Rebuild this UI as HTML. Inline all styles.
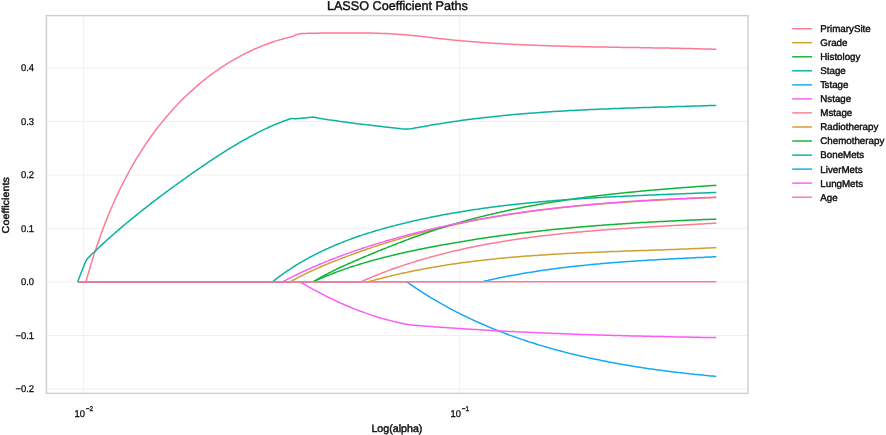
<!DOCTYPE html>
<html lang="en"><head><meta charset="utf-8"><title>LASSO Coefficient Paths</title>
<style>
html,body{margin:0;padding:0;background:#fff;}
body{width:886px;height:435px;overflow:hidden;font-family:"Liberation Sans",Arial,sans-serif;}
svg text{white-space:pre;}
</style></head><body>
<svg width="886" height="435" viewBox="0 0 886 435" style="display:block">
<rect width="886" height="435" fill="#fff"/>
<path d="M46.4,68.0 H748.0 M46.4,121.5 H748.0 M46.4,175.0 H748.0 M46.4,228.5 H748.0 M46.4,282.0 H748.0 M46.4,335.5 H748.0 M46.4,389.0 H748.0 M83.7,15.6 V393.4 M459.7,15.6 V393.4" stroke="#f0f0f0" stroke-width="1" fill="none"/>
<g fill="none" stroke-width="1.5" stroke-linejoin="round" stroke-linecap="butt">
<path d="M86.0,281.7 L86.4,280.3 L86.8,278.8 L87.2,277.4 L87.6,275.9 L88.0,274.5 L88.4,273.0 L88.9,271.6 L89.3,270.1 L89.7,268.7 L90.1,267.2 L90.6,265.8 L91.0,264.4 L91.4,262.9 L91.9,261.5 L92.3,260.0 L92.8,258.6 L93.2,257.2 L93.7,255.7 L94.1,254.3 L94.6,252.8 L95.1,251.4 L95.6,250.0 L96.0,248.5 L96.5,247.1 L97.0,245.7 L97.5,244.2 L98.0,242.8 L98.5,241.4 L99.0,239.9 L99.5,238.5 L100.0,237.1 L100.5,235.6 L101.0,234.2 L101.5,232.8 L102.1,231.4 L102.6,230.0 L103.1,228.5 L103.6,227.1 L104.2,225.7 L104.7,224.3 L105.3,222.9 L105.8,221.5 L106.4,220.1 L107.0,218.6 L107.5,217.2 L108.1,215.8 L108.7,214.4 L109.2,213.0 L109.8,211.6 L110.4,210.2 L111.0,208.8 L111.6,207.4 L112.2,206.0 L112.8,204.7 L113.4,203.3 L114.0,201.9 L114.7,200.5 L115.3,199.1 L115.9,197.7 L116.6,196.4 L117.2,195.0 L117.8,193.6 L118.5,192.3 L119.1,190.9 L119.8,189.5 L120.5,188.2 L121.1,186.8 L121.8,185.5 L122.5,184.1 L123.2,182.7 L123.8,181.4 L124.5,180.1 L125.2,178.7 L125.9,177.4 L126.6,176.0 L127.4,174.7 L128.1,173.4 L128.8,172.0 L129.5,170.7 L130.3,169.4 L131.0,168.1 L131.7,166.8 L132.5,165.5 L133.2,164.1 L134.0,162.8 L134.8,161.5 L135.5,160.2 L136.3,158.9 L137.1,157.7 L137.9,156.4 L138.7,155.1 L139.5,153.8 L140.3,152.5 L141.1,151.3 L141.9,150.0 L142.7,148.7 L143.5,147.5 L144.4,146.2 L145.2,144.9 L146.0,143.7 L146.9,142.4 L147.7,141.2 L148.6,140.0 L149.5,138.7 L150.3,137.5 L151.2,136.3 L152.1,135.0 L153.0,133.8 L153.9,132.6 L154.8,131.4 L155.7,130.2 L156.6,129.0 L157.5,127.8 L158.4,126.6 L159.3,125.4 L160.3,124.2 L161.2,123.1 L162.2,121.9 L163.1,120.7 L164.1,119.6 L165.0,118.4 L166.0,117.2 L167.0,116.1 L168.0,115.0 L169.0,113.8 L170.0,112.7 L171.0,111.5 L172.0,110.4 L173.0,109.3 L174.0,108.2 L175.0,107.1 L176.1,106.0 L177.1,104.9 L178.1,103.8 L179.2,102.7 L180.3,101.6 L181.3,100.5 L182.4,99.5 L183.5,98.4 L184.5,97.3 L185.6,96.3 L186.7,95.2 L187.8,94.2 L188.9,93.2 L190.0,92.1 L191.2,91.1 L192.3,90.1 L193.4,89.1 L194.5,88.1 L195.7,87.1 L196.8,86.1 L198.0,85.1 L199.1,84.1 L200.3,83.1 L201.5,82.2 L202.6,81.2 L203.8,80.3 L205.0,79.3 L206.2,78.4 L207.4,77.5 L208.6,76.5 L209.8,75.6 L211.0,74.7 L212.2,73.8 L213.5,72.9 L214.7,72.0 L215.9,71.2 L217.2,70.3 L218.4,69.4 L219.6,68.6 L220.9,67.7 L222.2,66.9 L223.4,66.1 L224.7,65.3 L226.0,64.4 L227.2,63.6 L228.5,62.9 L229.8,62.1 L231.1,61.3 L232.4,60.5 L233.7,59.8 L235.0,59.0 L236.3,58.3 L237.6,57.5 L239.0,56.8 L240.3,56.1 L241.6,55.4 L243.0,54.7 L244.3,54.0 L245.6,53.3 L247.0,52.6 L248.4,52.0 L249.7,51.3 L251.1,50.7 L252.4,50.1 L253.8,49.4 L255.2,48.8 L256.6,48.2 L258.0,47.6 L259.3,47.0 L260.7,46.5 L262.1,45.9 L263.5,45.4 L264.9,44.8 L266.4,44.3 L267.8,43.8 L269.2,43.3 L270.6,42.8 L272.0,42.3 L273.5,41.8 L274.9,41.3 L276.3,40.9 L277.8,40.4 L279.2,40.0 L280.7,39.6 L282.1,39.2 L283.6,38.8 L285.0,38.4 L286.5,38.0 L288.0,37.6 L289.4,37.3 L290.9,36.9 L292.4,36.6 L292.4,36.6 L293.9,35.8 L295.4,35.0 L296.9,34.5 L298.4,34.1 L299.9,33.8 L301.4,33.5 L302.9,33.4 L303.0,33.4 L303.0,33.4 L304.5,33.4 L306.0,33.4 L307.5,33.3 L309.0,33.3 L310.5,33.3 L312.1,33.3 L313.6,33.2 L315.1,33.2 L316.6,33.2 L318.1,33.2 L319.6,33.1 L321.1,33.1 L322.6,33.1 L324.1,33.1 L325.6,33.0 L327.2,33.0 L328.7,33.0 L330.2,33.0 L331.7,33.0 L333.2,33.0 L334.7,32.9 L336.2,32.9 L337.7,32.9 L339.2,32.9 L340.8,32.9 L342.3,32.9 L343.8,32.9 L345.3,32.9 L346.8,32.9 L348.3,32.9 L349.8,32.9 L351.3,32.9 L352.8,32.9 L354.4,32.9 L355.9,32.9 L357.4,32.9 L358.9,32.9 L360.4,32.9 L361.9,32.9 L363.4,32.9 L364.9,33.0 L366.4,33.0 L368.0,33.0 L369.5,33.0 L371.0,33.1 L372.5,33.1 L374.0,33.2 L375.5,33.2 L377.0,33.2 L378.5,33.3 L380.0,33.3 L381.5,33.4 L383.1,33.5 L384.6,33.5 L386.1,33.6 L387.6,33.6 L389.1,33.7 L390.6,33.8 L392.1,33.9 L393.6,34.0 L395.1,34.1 L396.6,34.2 L398.1,34.3 L399.6,34.4 L401.1,34.5 L402.6,34.6 L404.2,34.7 L405.7,34.8 L407.2,35.0 L408.7,35.1 L410.2,35.2 L411.7,35.4 L413.2,35.5 L414.7,35.7 L416.2,35.8 L417.7,36.0 L419.2,36.2 L420.7,36.3 L422.2,36.5 L423.7,36.7 L425.2,36.9 L426.7,37.1 L428.2,37.2 L429.7,37.4 L431.2,37.6 L432.7,37.8 L434.2,38.0 L435.7,38.1 L437.2,38.3 L438.7,38.5 L440.2,38.7 L441.7,38.8 L443.2,39.0 L444.7,39.1 L446.2,39.3 L447.7,39.5 L449.2,39.6 L450.7,39.8 L452.2,39.9 L453.7,40.1 L455.2,40.2 L456.7,40.4 L458.2,40.5 L459.7,40.6 L461.2,40.8 L462.7,40.9 L464.2,41.0 L465.7,41.2 L467.2,41.3 L468.7,41.4 L470.2,41.5 L471.8,41.7 L473.3,41.8 L474.8,41.9 L476.3,42.0 L477.8,42.1 L479.3,42.2 L480.8,42.4 L482.3,42.5 L483.8,42.6 L485.3,42.7 L486.8,42.8 L488.3,42.9 L489.8,43.0 L491.3,43.1 L492.8,43.2 L494.4,43.3 L495.9,43.4 L497.4,43.4 L498.9,43.5 L500.4,43.6 L501.9,43.7 L503.4,43.8 L504.9,43.9 L506.4,44.0 L507.9,44.0 L509.4,44.1 L510.9,44.2 L512.4,44.3 L514.0,44.4 L515.5,44.4 L517.0,44.5 L518.5,44.6 L520.0,44.7 L521.5,44.7 L523.0,44.8 L524.5,44.9 L526.0,44.9 L527.5,45.0 L529.0,45.0 L530.5,45.1 L532.1,45.2 L533.6,45.2 L535.1,45.3 L536.6,45.3 L538.1,45.4 L539.6,45.5 L541.1,45.5 L542.6,45.6 L544.1,45.6 L545.6,45.7 L547.1,45.7 L548.7,45.8 L550.2,45.8 L551.7,45.9 L553.2,45.9 L554.7,46.0 L556.2,46.0 L557.7,46.1 L559.2,46.1 L560.7,46.1 L562.2,46.2 L563.8,46.2 L565.3,46.3 L566.8,46.3 L568.3,46.3 L569.8,46.4 L571.3,46.4 L572.8,46.5 L574.3,46.5 L575.8,46.5 L577.4,46.6 L578.9,46.6 L580.4,46.6 L581.9,46.7 L583.4,46.7 L584.9,46.7 L586.4,46.8 L587.9,46.8 L589.4,46.8 L590.9,46.8 L592.5,46.9 L594.0,46.9 L595.5,46.9 L597.0,47.0 L598.5,47.0 L600.0,47.0 L601.5,47.0 L603.0,47.1 L604.5,47.1 L606.1,47.1 L607.6,47.1 L609.1,47.2 L610.6,47.2 L612.1,47.2 L613.6,47.2 L615.1,47.3 L616.6,47.3 L618.1,47.3 L619.7,47.3 L621.2,47.4 L622.7,47.4 L624.2,47.4 L625.7,47.4 L627.2,47.5 L628.7,47.5 L630.2,47.5 L631.7,47.5 L633.3,47.5 L634.8,47.6 L636.3,47.6 L637.8,47.6 L639.3,47.6 L640.8,47.7 L642.3,47.7 L643.8,47.7 L645.3,47.7 L646.8,47.8 L648.4,47.8 L649.9,47.8 L651.4,47.8 L652.9,47.9 L654.4,47.9 L655.9,47.9 L657.4,47.9 L658.9,48.0 L660.4,48.0 L662.0,48.0 L663.5,48.0 L665.0,48.1 L666.5,48.1 L668.0,48.1 L669.5,48.1 L671.0,48.2 L672.5,48.2 L674.0,48.2 L675.5,48.3 L677.1,48.3 L678.6,48.3 L680.1,48.3 L681.6,48.4 L683.1,48.4 L684.6,48.4 L686.1,48.5 L687.6,48.5 L689.1,48.5 L690.6,48.6 L692.2,48.6 L693.7,48.7 L695.2,48.7 L696.7,48.7 L698.2,48.8 L699.7,48.8 L701.2,48.9 L702.7,48.9 L704.2,48.9 L705.7,49.0 L707.2,49.0 L708.8,49.1 L710.3,49.1 L711.8,49.2 L713.3,49.2 L714.8,49.3 L716.3,49.3" stroke="#fd7a97"/>
<path d="M290.5,281.7 L291.8,281.0 L293.1,280.2 L294.5,279.5 L295.8,278.8 L297.1,278.1 L298.4,277.4 L299.8,276.7 L301.1,276.0 L302.5,275.3 L303.8,274.6 L305.2,273.9 L306.5,273.3 L307.9,272.6 L309.2,272.0 L310.6,271.3 L312.0,270.7 L313.3,270.1 L314.7,269.5 L316.1,268.8 L317.5,268.2 L318.8,267.6 L320.2,267.0 L321.6,266.4 L323.0,265.8 L324.4,265.3 L325.8,264.7 L327.1,264.1 L328.5,263.5 L329.9,263.0 L331.3,262.4 L332.7,261.8 L334.1,261.3 L335.5,260.7 L336.9,260.2 L338.3,259.6 L339.7,259.1 L341.2,258.6 L342.6,258.0 L344.0,257.5 L345.4,257.0 L346.8,256.4 L348.2,255.9 L349.6,255.4 L351.1,254.9 L352.5,254.4 L353.9,253.8 L355.3,253.3 L356.7,252.8 L358.2,252.3 L359.6,251.8 L361.0,251.3 L362.4,250.8 L363.9,250.3 L365.3,249.8 L366.7,249.3 L368.1,248.8 L369.6,248.4 L371.0,247.9 L372.4,247.4 L373.9,246.9 L375.3,246.4 L376.7,246.0 L378.2,245.5 L379.6,245.0 L381.1,244.5 L382.5,244.1 L383.9,243.6 L385.4,243.2 L386.8,242.7 L388.3,242.3 L389.7,241.8 L391.1,241.4 L392.6,240.9 L394.0,240.5 L395.5,240.0 L396.9,239.6 L398.4,239.2 L399.8,238.7 L401.3,238.3 L402.7,237.9 L404.2,237.4 L405.6,237.0 L407.1,236.6 L408.5,236.2 L410.0,235.8 L411.4,235.4 L412.9,235.0 L414.4,234.6 L415.8,234.2 L417.3,233.8 L418.7,233.4 L420.2,233.0 L421.7,232.6 L423.1,232.2 L424.6,231.8 L426.0,231.4 L427.5,231.1 L429.0,230.7 L430.4,230.3 L431.9,229.9 L433.4,229.6 L434.8,229.2 L436.3,228.8 L437.8,228.5 L439.2,228.1 L440.7,227.8 L442.2,227.4 L443.6,227.1 L445.1,226.7 L446.6,226.4 L448.0,226.1 L449.5,225.7 L451.0,225.4 L452.5,225.1 L453.9,224.8 L455.4,224.4 L456.9,224.1 L458.3,223.8 L459.8,223.5 L461.3,223.2 L462.8,222.9 L464.2,222.5 L465.7,222.2 L467.2,221.9 L468.7,221.6 L470.2,221.3 L471.6,221.1 L473.1,220.8 L474.6,220.5 L476.1,220.2 L477.6,219.9 L479.0,219.6 L480.5,219.3 L482.0,219.1 L483.5,218.8 L485.0,218.5 L486.5,218.3 L487.9,218.0 L489.4,217.7 L490.9,217.5 L492.4,217.2 L493.9,217.0 L495.4,216.7 L496.9,216.4 L498.3,216.2 L499.8,215.9 L501.3,215.7 L502.8,215.5 L504.3,215.2 L505.8,215.0 L507.3,214.8 L508.8,214.5 L510.2,214.3 L511.7,214.1 L513.2,213.8 L514.7,213.6 L516.2,213.4 L517.7,213.2 L519.2,212.9 L520.7,212.7 L522.2,212.5 L523.7,212.3 L525.2,212.1 L526.7,211.9 L528.2,211.7 L529.7,211.5 L531.1,211.3 L532.6,211.1 L534.1,210.9 L535.6,210.7 L537.1,210.5 L538.6,210.3 L540.1,210.1 L541.6,209.9 L543.1,209.7 L544.6,209.6 L546.1,209.4 L547.6,209.2 L549.1,209.0 L550.6,208.8 L552.1,208.7 L553.6,208.5 L555.1,208.3 L556.6,208.2 L558.1,208.0 L559.6,207.8 L561.1,207.7 L562.6,207.5 L564.1,207.3 L565.6,207.2 L567.1,207.0 L568.6,206.9 L570.1,206.7 L571.6,206.6 L573.1,206.4 L574.6,206.3 L576.1,206.1 L577.6,206.0 L579.1,205.8 L580.6,205.7 L582.1,205.6 L583.6,205.4 L585.2,205.3 L586.7,205.1 L588.2,205.0 L589.7,204.9 L591.2,204.7 L592.7,204.6 L594.2,204.5 L595.7,204.4 L597.2,204.2 L598.7,204.1 L600.2,204.0 L601.7,203.9 L603.2,203.7 L604.7,203.6 L606.2,203.5 L607.7,203.4 L609.2,203.3 L610.8,203.2 L612.3,203.0 L613.8,202.9 L615.3,202.8 L616.8,202.7 L618.3,202.6 L619.8,202.5 L621.3,202.4 L622.8,202.3 L624.3,202.2 L625.8,202.1 L627.3,202.0 L628.8,201.9 L630.3,201.8 L631.9,201.7 L633.4,201.6 L634.9,201.5 L636.4,201.4 L637.9,201.3 L639.4,201.2 L640.9,201.1 L642.4,201.0 L643.9,200.9 L645.4,200.8 L646.9,200.7 L648.5,200.7 L650.0,200.6 L651.5,200.5 L653.0,200.4 L654.5,200.3 L656.0,200.2 L657.5,200.2 L659.0,200.1 L660.5,200.0 L662.0,199.9 L663.5,199.8 L665.0,199.8 L666.6,199.7 L668.1,199.6 L669.6,199.5 L671.1,199.4 L672.6,199.4 L674.1,199.3 L675.6,199.2 L677.1,199.1 L678.6,199.1 L680.1,199.0 L681.6,198.9 L683.1,198.9 L684.7,198.8 L686.2,198.7 L687.7,198.6 L689.2,198.6 L690.7,198.5 L692.2,198.4 L693.7,198.4 L695.2,198.3 L696.7,198.2 L698.2,198.2 L699.7,198.1 L701.2,198.0 L702.7,198.0 L704.3,197.9 L705.8,197.8 L707.3,197.8 L708.8,197.7 L710.3,197.7 L711.8,197.6 L713.3,197.5 L714.8,197.5 L716.3,197.4" stroke="#cf9f2f"/>
<path d="M313.3,281.7 L314.6,280.9 L315.9,280.2 L317.2,279.4 L318.5,278.7 L319.8,277.9 L321.1,277.2 L322.4,276.5 L323.8,275.7 L325.1,275.0 L326.4,274.3 L327.7,273.6 L329.1,272.9 L330.4,272.3 L331.8,271.6 L333.1,270.9 L334.5,270.3 L335.8,269.6 L337.2,268.9 L338.5,268.3 L339.9,267.7 L341.3,267.0 L342.6,266.4 L344.0,265.8 L345.4,265.1 L346.7,264.5 L348.1,263.9 L349.5,263.3 L350.9,262.7 L352.2,262.1 L353.6,261.5 L355.0,260.9 L356.4,260.3 L357.8,259.7 L359.2,259.1 L360.6,258.5 L361.9,257.9 L363.3,257.3 L364.7,256.7 L366.1,256.1 L367.5,255.6 L368.9,255.0 L370.3,254.4 L371.7,253.8 L373.1,253.2 L374.5,252.7 L375.9,252.1 L377.3,251.5 L378.7,250.9 L380.1,250.4 L381.5,249.8 L382.9,249.2 L384.3,248.7 L385.7,248.1 L387.1,247.6 L388.5,247.0 L389.9,246.4 L391.3,245.9 L392.7,245.3 L394.1,244.8 L395.6,244.2 L397.0,243.7 L398.4,243.1 L399.8,242.6 L401.2,242.0 L402.6,241.5 L404.0,241.0 L405.4,240.4 L406.9,239.9 L408.3,239.4 L409.7,238.8 L411.1,238.3 L412.5,237.8 L413.9,237.3 L415.4,236.8 L416.8,236.3 L418.2,235.7 L419.6,235.2 L421.1,234.7 L422.5,234.2 L423.9,233.7 L425.3,233.2 L426.8,232.7 L428.2,232.3 L429.6,231.8 L431.1,231.3 L432.5,230.8 L433.9,230.3 L435.4,229.9 L436.8,229.4 L438.2,228.9 L439.7,228.5 L441.1,228.0 L442.5,227.6 L444.0,227.1 L445.4,226.7 L446.9,226.2 L448.3,225.8 L449.7,225.3 L451.2,224.9 L452.6,224.5 L454.1,224.0 L455.5,223.6 L457.0,223.2 L458.4,222.8 L459.9,222.4 L461.3,222.0 L462.8,221.5 L464.2,221.1 L465.7,220.7 L467.1,220.3 L468.6,219.9 L470.0,219.6 L471.5,219.2 L472.9,218.8 L474.4,218.4 L475.9,218.0 L477.3,217.6 L478.8,217.3 L480.2,216.9 L481.7,216.5 L483.2,216.2 L484.6,215.8 L486.1,215.4 L487.6,215.1 L489.0,214.7 L490.5,214.4 L492.0,214.0 L493.4,213.7 L494.9,213.4 L496.4,213.0 L497.8,212.7 L499.3,212.4 L500.8,212.0 L502.2,211.7 L503.7,211.4 L505.2,211.1 L506.7,210.7 L508.1,210.4 L509.6,210.1 L511.1,209.8 L512.6,209.5 L514.0,209.2 L515.5,208.9 L517.0,208.6 L518.5,208.3 L519.9,208.0 L521.4,207.7 L522.9,207.4 L524.4,207.1 L525.9,206.8 L527.3,206.5 L528.8,206.3 L530.3,206.0 L531.8,205.7 L533.3,205.4 L534.8,205.2 L536.2,204.9 L537.7,204.6 L539.2,204.4 L540.7,204.1 L542.2,203.9 L543.7,203.6 L545.2,203.3 L546.7,203.1 L548.1,202.8 L549.6,202.6 L551.1,202.4 L552.6,202.1 L554.1,201.9 L555.6,201.6 L557.1,201.4 L558.6,201.2 L560.1,200.9 L561.6,200.7 L563.1,200.5 L564.5,200.3 L566.0,200.0 L567.5,199.8 L569.0,199.6 L570.5,199.4 L572.0,199.2 L573.5,198.9 L575.0,198.7 L576.5,198.5 L578.0,198.3 L579.5,198.1 L581.0,197.9 L582.5,197.7 L584.0,197.5 L585.5,197.3 L587.0,197.1 L588.5,196.9 L590.0,196.7 L591.5,196.5 L593.0,196.3 L594.5,196.2 L596.0,196.0 L597.5,195.8 L599.0,195.6 L600.5,195.4 L602.0,195.2 L603.5,195.1 L605.0,194.9 L606.5,194.7 L608.0,194.6 L609.5,194.4 L611.0,194.2 L612.5,194.0 L614.0,193.9 L615.5,193.7 L617.0,193.6 L618.5,193.4 L620.0,193.2 L621.5,193.1 L623.0,192.9 L624.5,192.8 L626.0,192.6 L627.6,192.5 L629.1,192.3 L630.6,192.2 L632.1,192.0 L633.6,191.9 L635.1,191.7 L636.6,191.6 L638.1,191.4 L639.6,191.3 L641.1,191.1 L642.6,191.0 L644.1,190.9 L645.6,190.7 L647.1,190.6 L648.6,190.5 L650.1,190.3 L651.6,190.2 L653.1,190.1 L654.6,189.9 L656.2,189.8 L657.7,189.7 L659.2,189.5 L660.7,189.4 L662.2,189.3 L663.7,189.2 L665.2,189.0 L666.7,188.9 L668.2,188.8 L669.7,188.7 L671.2,188.6 L672.7,188.4 L674.2,188.3 L675.7,188.2 L677.2,188.1 L678.7,188.0 L680.2,187.9 L681.7,187.7 L683.2,187.6 L684.7,187.5 L686.3,187.4 L687.8,187.3 L689.3,187.2 L690.8,187.1 L692.3,187.0 L693.8,186.9 L695.3,186.7 L696.8,186.6 L698.3,186.5 L699.8,186.4 L701.3,186.3 L702.8,186.2 L704.3,186.1 L705.8,186.0 L707.3,185.9 L708.8,185.8 L710.3,185.7 L711.8,185.6 L713.3,185.5 L714.8,185.4 L716.3,185.3" stroke="#10b434"/>
<path d="M77.6,281.7 L84.5,264.2 L86.0,260.7 L87.5,258.5 L88.0,258.0 L88.0,258.0 L89.1,256.9 L90.2,255.9 L91.2,254.8 L92.3,253.8 L93.4,252.7 L94.5,251.7 L95.6,250.6 L96.7,249.6 L97.8,248.5 L98.9,247.5 L100.0,246.5 L101.1,245.4 L102.2,244.4 L103.3,243.4 L104.5,242.4 L105.6,241.3 L106.7,240.3 L107.8,239.3 L108.9,238.3 L110.1,237.3 L111.2,236.3 L112.3,235.3 L113.5,234.3 L114.6,233.3 L115.7,232.3 L116.9,231.3 L118.0,230.3 L119.2,229.3 L120.3,228.4 L121.5,227.4 L122.6,226.4 L123.8,225.4 L124.9,224.5 L126.1,223.5 L127.3,222.5 L128.4,221.6 L129.6,220.6 L130.7,219.6 L131.9,218.7 L133.1,217.7 L134.3,216.8 L135.4,215.8 L136.6,214.9 L137.8,213.9 L139.0,213.0 L140.1,212.0 L141.3,211.1 L142.5,210.1 L143.7,209.2 L144.9,208.3 L146.1,207.3 L147.3,206.4 L148.5,205.5 L149.7,204.6 L150.8,203.6 L152.0,202.7 L153.2,201.8 L154.4,200.9 L155.6,200.0 L156.9,199.1 L158.1,198.1 L159.3,197.2 L160.5,196.3 L161.7,195.4 L162.9,194.5 L164.1,193.6 L165.3,192.7 L166.5,191.8 L167.8,190.9 L169.0,190.0 L170.2,189.1 L171.4,188.2 L172.6,187.3 L173.9,186.4 L175.1,185.5 L176.3,184.7 L177.5,183.8 L178.8,182.9 L180.0,182.0 L181.2,181.1 L182.5,180.2 L183.7,179.4 L184.9,178.5 L186.2,177.6 L187.4,176.7 L188.6,175.9 L189.9,175.0 L191.1,174.1 L192.4,173.2 L193.6,172.4 L194.8,171.5 L196.1,170.6 L197.3,169.8 L198.6,168.9 L199.8,168.1 L201.1,167.2 L202.3,166.3 L203.6,165.5 L204.8,164.6 L206.1,163.8 L207.3,162.9 L208.6,162.1 L209.8,161.2 L211.1,160.4 L212.4,159.6 L213.6,158.7 L214.9,157.9 L216.2,157.1 L217.4,156.2 L218.7,155.4 L220.0,154.6 L221.2,153.8 L222.5,153.0 L223.8,152.2 L225.1,151.3 L226.4,150.5 L227.6,149.7 L228.9,149.0 L230.2,148.2 L231.5,147.4 L232.8,146.6 L234.1,145.8 L235.4,145.0 L236.7,144.3 L238.0,143.5 L239.3,142.7 L240.6,142.0 L241.9,141.2 L243.2,140.5 L244.5,139.7 L245.9,139.0 L247.2,138.3 L248.5,137.5 L249.8,136.8 L251.1,136.1 L252.5,135.4 L253.8,134.7 L255.2,134.0 L256.5,133.3 L257.8,132.6 L259.2,131.9 L260.5,131.2 L261.9,130.6 L263.2,129.9 L264.6,129.3 L266.0,128.6 L267.3,128.0 L268.7,127.3 L270.1,126.7 L271.5,126.1 L272.8,125.5 L274.2,124.9 L275.6,124.3 L277.0,123.7 L278.4,123.2 L279.8,122.6 L281.2,122.1 L282.6,121.5 L284.0,121.0 L285.5,120.5 L286.9,120.0 L288.3,119.5 L289.8,119.0 L291.2,118.5 L291.2,118.5 L292.9,118.6 L294.6,118.7 L296.3,118.7 L298.0,118.6 L299.7,118.5 L301.4,118.3 L303.1,118.1 L304.8,118.0 L306.5,117.8 L308.2,117.6 L309.9,117.4 L311.6,117.2 L313.3,117.1 L313.3,117.1 L314.8,117.4 L316.3,117.6 L317.8,117.9 L319.3,118.2 L320.8,118.4 L322.4,118.7 L323.9,118.9 L325.4,119.2 L326.9,119.4 L328.4,119.7 L329.9,119.9 L331.4,120.1 L333.0,120.4 L334.5,120.6 L336.0,120.8 L337.5,121.0 L339.0,121.3 L340.6,121.5 L342.1,121.7 L343.6,121.9 L345.1,122.1 L346.6,122.3 L348.2,122.5 L349.7,122.7 L351.2,122.9 L352.7,123.1 L354.2,123.3 L355.8,123.5 L357.3,123.7 L358.8,123.9 L360.3,124.0 L361.9,124.2 L363.4,124.4 L364.9,124.6 L366.4,124.8 L368.0,124.9 L369.5,125.1 L371.0,125.3 L372.5,125.5 L374.1,125.7 L375.6,125.8 L377.1,126.0 L378.6,126.2 L380.2,126.3 L381.7,126.5 L383.2,126.7 L384.7,126.9 L386.3,127.0 L387.8,127.2 L389.3,127.4 L390.8,127.6 L392.4,127.7 L393.9,127.9 L395.4,128.1 L396.9,128.3 L398.5,128.4 L400.0,128.6 L401.5,128.8 L401.5,128.8 L403.0,128.9 L404.5,129.0 L406.0,129.0 L407.5,129.0 L409.0,128.9 L410.5,128.8 L412.0,128.6 L413.1,128.4 L413.1,128.4 L414.6,128.1 L416.1,127.8 L417.6,127.5 L419.1,127.3 L420.5,127.0 L422.0,126.7 L423.5,126.5 L425.0,126.2 L426.5,125.9 L428.0,125.7 L429.5,125.4 L431.0,125.1 L432.5,124.9 L434.0,124.6 L435.5,124.4 L437.0,124.1 L438.5,123.9 L440.0,123.7 L441.5,123.4 L442.9,123.2 L444.4,123.0 L445.9,122.7 L447.4,122.5 L448.9,122.3 L450.4,122.0 L451.9,121.8 L453.4,121.6 L454.9,121.4 L456.4,121.2 L457.9,121.0 L459.4,120.8 L460.9,120.5 L462.4,120.3 L463.9,120.1 L465.4,119.9 L466.9,119.7 L468.4,119.5 L469.9,119.3 L471.4,119.2 L472.9,119.0 L474.4,118.8 L475.9,118.6 L477.4,118.4 L478.9,118.2 L480.4,118.1 L481.9,117.9 L483.4,117.7 L484.9,117.5 L486.4,117.4 L488.0,117.2 L489.5,117.0 L491.0,116.9 L492.5,116.7 L494.0,116.5 L495.5,116.4 L497.0,116.2 L498.5,116.1 L500.0,115.9 L501.5,115.8 L503.0,115.6 L504.5,115.5 L506.0,115.3 L507.5,115.2 L509.0,115.0 L510.5,114.9 L512.0,114.8 L513.6,114.6 L515.1,114.5 L516.6,114.3 L518.1,114.2 L519.6,114.1 L521.1,114.0 L522.6,113.8 L524.1,113.7 L525.6,113.6 L527.1,113.5 L528.6,113.3 L530.1,113.2 L531.7,113.1 L533.2,113.0 L534.7,112.9 L536.2,112.8 L537.7,112.7 L539.2,112.5 L540.7,112.4 L542.2,112.3 L543.7,112.2 L545.3,112.1 L546.8,112.0 L548.3,111.9 L549.8,111.8 L551.3,111.7 L552.8,111.6 L554.3,111.5 L555.8,111.4 L557.4,111.3 L558.9,111.2 L560.4,111.2 L561.9,111.1 L563.4,111.0 L564.9,110.9 L566.4,110.8 L567.9,110.7 L569.5,110.6 L571.0,110.5 L572.5,110.5 L574.0,110.4 L575.5,110.3 L577.0,110.2 L578.5,110.2 L580.0,110.1 L581.6,110.0 L583.1,109.9 L584.6,109.9 L586.1,109.8 L587.6,109.7 L589.1,109.6 L590.6,109.6 L592.2,109.5 L593.7,109.4 L595.2,109.4 L596.7,109.3 L598.2,109.2 L599.7,109.2 L601.2,109.1 L602.8,109.0 L604.3,109.0 L605.8,108.9 L607.3,108.9 L608.8,108.8 L610.3,108.7 L611.9,108.7 L613.4,108.6 L614.9,108.6 L616.4,108.5 L617.9,108.5 L619.4,108.4 L620.9,108.3 L622.5,108.3 L624.0,108.2 L625.5,108.2 L627.0,108.1 L628.5,108.1 L630.0,108.0 L631.5,108.0 L633.1,107.9 L634.6,107.9 L636.1,107.8 L637.6,107.8 L639.1,107.7 L640.6,107.7 L642.2,107.6 L643.7,107.6 L645.2,107.5 L646.7,107.5 L648.2,107.4 L649.7,107.4 L651.2,107.4 L652.8,107.3 L654.3,107.3 L655.8,107.2 L657.3,107.2 L658.8,107.1 L660.3,107.1 L661.8,107.0 L663.4,107.0 L664.9,106.9 L666.4,106.9 L667.9,106.9 L669.4,106.8 L670.9,106.8 L672.4,106.7 L674.0,106.7 L675.5,106.6 L677.0,106.6 L678.5,106.6 L680.0,106.5 L681.5,106.5 L683.0,106.4 L684.6,106.4 L686.1,106.3 L687.6,106.3 L689.1,106.2 L690.6,106.2 L692.1,106.2 L693.6,106.1 L695.1,106.1 L696.7,106.0 L698.2,106.0 L699.7,105.9 L701.2,105.9 L702.7,105.8 L704.2,105.8 L705.7,105.7 L707.2,105.7 L708.7,105.6 L710.3,105.6 L711.8,105.5 L713.3,105.5 L714.8,105.4 L716.3,105.4" stroke="#08b29e"/>
<path d="M481.9,281.7 L483.4,281.4 L484.9,281.0 L486.3,280.7 L487.8,280.4 L489.3,280.0 L490.8,279.7 L492.2,279.4 L493.7,279.1 L495.2,278.7 L496.7,278.4 L498.2,278.1 L499.6,277.8 L501.1,277.5 L502.6,277.2 L504.1,276.9 L505.6,276.6 L507.1,276.3 L508.5,276.1 L510.0,275.8 L511.5,275.5 L513.0,275.2 L514.5,275.0 L516.0,274.7 L517.5,274.4 L519.0,274.2 L520.4,273.9 L521.9,273.6 L523.4,273.4 L524.9,273.1 L526.4,272.9 L527.9,272.6 L529.4,272.4 L530.9,272.2 L532.4,271.9 L533.9,271.7 L535.4,271.5 L536.9,271.2 L538.4,271.0 L539.9,270.8 L541.4,270.6 L542.8,270.3 L544.3,270.1 L545.8,269.9 L547.3,269.7 L548.8,269.5 L550.3,269.3 L551.8,269.1 L553.3,268.9 L554.8,268.7 L556.3,268.5 L557.8,268.3 L559.3,268.1 L560.8,267.9 L562.3,267.7 L563.8,267.5 L565.3,267.4 L566.8,267.2 L568.3,267.0 L569.8,266.8 L571.4,266.7 L572.9,266.5 L574.4,266.3 L575.9,266.2 L577.4,266.0 L578.9,265.8 L580.4,265.7 L581.9,265.5 L583.4,265.4 L584.9,265.2 L586.4,265.1 L587.9,264.9 L589.4,264.8 L590.9,264.6 L592.4,264.5 L593.9,264.3 L595.4,264.2 L597.0,264.0 L598.5,263.9 L600.0,263.8 L601.5,263.6 L603.0,263.5 L604.5,263.4 L606.0,263.2 L607.5,263.1 L609.0,263.0 L610.5,262.9 L612.0,262.7 L613.6,262.6 L615.1,262.5 L616.6,262.4 L618.1,262.3 L619.6,262.2 L621.1,262.0 L622.6,261.9 L624.1,261.8 L625.6,261.7 L627.1,261.6 L628.7,261.5 L630.2,261.4 L631.7,261.3 L633.2,261.2 L634.7,261.1 L636.2,261.0 L637.7,260.9 L639.2,260.8 L640.8,260.7 L642.3,260.6 L643.8,260.5 L645.3,260.4 L646.8,260.3 L648.3,260.2 L649.8,260.1 L651.3,260.0 L652.9,259.9 L654.4,259.9 L655.9,259.8 L657.4,259.7 L658.9,259.6 L660.4,259.5 L661.9,259.4 L663.4,259.3 L664.9,259.3 L666.5,259.2 L668.0,259.1 L669.5,259.0 L671.0,258.9 L672.5,258.9 L674.0,258.8 L675.5,258.7 L677.0,258.6 L678.6,258.5 L680.1,258.5 L681.6,258.4 L683.1,258.3 L684.6,258.2 L686.1,258.2 L687.6,258.1 L689.1,258.0 L690.6,257.9 L692.2,257.9 L693.7,257.8 L695.2,257.7 L696.7,257.6 L698.2,257.6 L699.7,257.5 L701.2,257.4 L702.7,257.4 L704.2,257.3 L705.7,257.2 L707.3,257.1 L708.8,257.1 L710.3,257.0 L711.8,256.9 L713.3,256.8 L714.8,256.8 L716.3,256.7" stroke="#12a8f2"/>
<path d="M282.9,281.7 L284.2,281.0 L285.6,280.3 L286.9,279.6 L288.2,278.9 L289.6,278.2 L290.9,277.5 L292.3,276.9 L293.6,276.2 L295.0,275.5 L296.3,274.8 L297.7,274.2 L299.0,273.5 L300.4,272.9 L301.7,272.2 L303.1,271.6 L304.5,271.0 L305.8,270.3 L307.2,269.7 L308.6,269.1 L309.9,268.5 L311.3,267.9 L312.7,267.3 L314.1,266.7 L315.5,266.1 L316.9,265.5 L318.2,264.9 L319.6,264.3 L321.0,263.7 L322.4,263.1 L323.8,262.6 L325.2,262.0 L326.6,261.4 L328.0,260.9 L329.4,260.3 L330.8,259.7 L332.2,259.2 L333.6,258.7 L335.0,258.1 L336.4,257.6 L337.8,257.0 L339.2,256.5 L340.7,256.0 L342.1,255.5 L343.5,254.9 L344.9,254.4 L346.3,253.9 L347.8,253.4 L349.2,252.9 L350.6,252.4 L352.0,251.9 L353.4,251.4 L354.9,250.9 L356.3,250.4 L357.7,249.9 L359.2,249.4 L360.6,249.0 L362.0,248.5 L363.5,248.0 L364.9,247.5 L366.3,247.1 L367.8,246.6 L369.2,246.1 L370.6,245.7 L372.1,245.2 L373.5,244.8 L375.0,244.3 L376.4,243.9 L377.9,243.4 L379.3,243.0 L380.8,242.6 L382.2,242.1 L383.7,241.7 L385.1,241.3 L386.5,240.8 L388.0,240.4 L389.5,240.0 L390.9,239.6 L392.4,239.2 L393.8,238.8 L395.3,238.4 L396.7,237.9 L398.2,237.5 L399.6,237.1 L401.1,236.7 L402.5,236.4 L404.0,236.0 L405.5,235.6 L406.9,235.2 L408.4,234.8 L409.8,234.4 L411.3,234.0 L412.8,233.7 L414.2,233.3 L415.7,232.9 L417.2,232.6 L418.6,232.2 L420.1,231.8 L421.6,231.5 L423.0,231.1 L424.5,230.8 L426.0,230.4 L427.4,230.0 L428.9,229.7 L430.4,229.4 L431.8,229.0 L433.3,228.7 L434.8,228.3 L436.2,228.0 L437.7,227.7 L439.2,227.3 L440.7,227.0 L442.1,226.7 L443.6,226.4 L445.1,226.0 L446.5,225.7 L448.0,225.4 L449.5,225.1 L451.0,224.8 L452.4,224.5 L453.9,224.2 L455.4,223.8 L456.9,223.5 L458.3,223.2 L459.8,222.9 L461.3,222.6 L462.8,222.4 L464.3,222.1 L465.7,221.8 L467.2,221.5 L468.7,221.2 L470.2,220.9 L471.7,220.6 L473.1,220.4 L474.6,220.1 L476.1,219.8 L477.6,219.5 L479.1,219.3 L480.6,219.0 L482.0,218.7 L483.5,218.5 L485.0,218.2 L486.5,218.0 L488.0,217.7 L489.5,217.4 L491.0,217.2 L492.4,216.9 L493.9,216.7 L495.4,216.4 L496.9,216.2 L498.4,216.0 L499.9,215.7 L501.4,215.5 L502.9,215.2 L504.4,215.0 L505.8,214.8 L507.3,214.5 L508.8,214.3 L510.3,214.1 L511.8,213.9 L513.3,213.6 L514.8,213.4 L516.3,213.2 L517.8,213.0 L519.3,212.8 L520.8,212.6 L522.3,212.3 L523.7,212.1 L525.2,211.9 L526.7,211.7 L528.2,211.5 L529.7,211.3 L531.2,211.1 L532.7,210.9 L534.2,210.7 L535.7,210.5 L537.2,210.3 L538.7,210.1 L540.2,210.0 L541.7,209.8 L543.2,209.6 L544.7,209.4 L546.2,209.2 L547.7,209.0 L549.2,208.9 L550.7,208.7 L552.2,208.5 L553.7,208.3 L555.2,208.2 L556.7,208.0 L558.2,207.8 L559.7,207.6 L561.2,207.5 L562.7,207.3 L564.2,207.2 L565.7,207.0 L567.2,206.8 L568.7,206.7 L570.2,206.5 L571.7,206.4 L573.2,206.2 L574.7,206.1 L576.2,205.9 L577.7,205.8 L579.2,205.6 L580.7,205.5 L582.2,205.3 L583.7,205.2 L585.2,205.0 L586.7,204.9 L588.2,204.8 L589.7,204.6 L591.2,204.5 L592.7,204.3 L594.2,204.2 L595.7,204.1 L597.3,204.0 L598.8,203.8 L600.3,203.7 L601.8,203.6 L603.3,203.4 L604.8,203.3 L606.3,203.2 L607.8,203.1 L609.3,203.0 L610.8,202.8 L612.3,202.7 L613.8,202.6 L615.3,202.5 L616.8,202.4 L618.3,202.3 L619.8,202.2 L621.3,202.0 L622.9,201.9 L624.4,201.8 L625.9,201.7 L627.4,201.6 L628.9,201.5 L630.4,201.4 L631.9,201.3 L633.4,201.2 L634.9,201.1 L636.4,201.0 L637.9,200.9 L639.4,200.8 L640.9,200.7 L642.4,200.6 L644.0,200.5 L645.5,200.5 L647.0,200.4 L648.5,200.3 L650.0,200.2 L651.5,200.1 L653.0,200.0 L654.5,199.9 L656.0,199.8 L657.5,199.8 L659.0,199.7 L660.5,199.6 L662.0,199.5 L663.6,199.4 L665.1,199.4 L666.6,199.3 L668.1,199.2 L669.6,199.1 L671.1,199.1 L672.6,199.0 L674.1,198.9 L675.6,198.8 L677.1,198.8 L678.6,198.7 L680.1,198.6 L681.6,198.6 L683.2,198.5 L684.7,198.4 L686.2,198.4 L687.7,198.3 L689.2,198.2 L690.7,198.2 L692.2,198.1 L693.7,198.0 L695.2,198.0 L696.7,197.9 L698.2,197.9 L699.7,197.8 L701.2,197.7 L702.7,197.7 L704.3,197.6 L705.8,197.6 L707.3,197.5 L708.8,197.5 L710.3,197.4 L711.8,197.4 L713.3,197.3 L714.8,197.3 L716.3,197.2" stroke="#fb5cf6"/>
<path d="M361.0,281.7 L362.4,281.1 L363.8,280.5 L365.2,279.9 L366.6,279.3 L368.0,278.7 L369.4,278.1 L370.8,277.5 L372.2,276.9 L373.6,276.4 L375.0,275.8 L376.4,275.2 L377.8,274.7 L379.2,274.1 L380.6,273.6 L382.0,273.0 L383.4,272.5 L384.8,272.0 L386.2,271.4 L387.7,270.9 L389.1,270.4 L390.5,269.9 L391.9,269.3 L393.3,268.8 L394.8,268.3 L396.2,267.8 L397.6,267.3 L399.0,266.8 L400.4,266.4 L401.9,265.9 L403.3,265.4 L404.7,264.9 L406.2,264.4 L407.6,264.0 L409.0,263.5 L410.5,263.1 L411.9,262.6 L413.3,262.1 L414.8,261.7 L416.2,261.3 L417.6,260.8 L419.1,260.4 L420.5,260.0 L422.0,259.5 L423.4,259.1 L424.9,258.7 L426.3,258.3 L427.8,257.9 L429.2,257.5 L430.7,257.0 L432.1,256.6 L433.6,256.3 L435.0,255.9 L436.5,255.5 L437.9,255.1 L439.4,254.7 L440.8,254.3 L442.3,254.0 L443.7,253.6 L445.2,253.2 L446.7,252.9 L448.1,252.5 L449.6,252.1 L451.0,251.8 L452.5,251.4 L454.0,251.1 L455.4,250.7 L456.9,250.4 L458.4,250.1 L459.8,249.7 L461.3,249.4 L462.8,249.1 L464.2,248.8 L465.7,248.4 L467.2,248.1 L468.7,247.8 L470.1,247.5 L471.6,247.2 L473.1,246.9 L474.6,246.6 L476.0,246.3 L477.5,246.0 L479.0,245.7 L480.5,245.4 L481.9,245.1 L483.4,244.9 L484.9,244.6 L486.4,244.3 L487.9,244.0 L489.4,243.8 L490.8,243.5 L492.3,243.2 L493.8,243.0 L495.3,242.7 L496.8,242.4 L498.3,242.2 L499.7,241.9 L501.2,241.7 L502.7,241.4 L504.2,241.2 L505.7,241.0 L507.2,240.7 L508.7,240.5 L510.2,240.3 L511.7,240.0 L513.2,239.8 L514.7,239.6 L516.1,239.4 L517.6,239.1 L519.1,238.9 L520.6,238.7 L522.1,238.5 L523.6,238.3 L525.1,238.1 L526.6,237.9 L528.1,237.7 L529.6,237.5 L531.1,237.3 L532.6,237.1 L534.1,236.9 L535.6,236.7 L537.1,236.5 L538.6,236.3 L540.1,236.1 L541.6,235.9 L543.1,235.8 L544.6,235.6 L546.1,235.4 L547.6,235.2 L549.1,235.1 L550.6,234.9 L552.1,234.7 L553.6,234.6 L555.1,234.4 L556.7,234.2 L558.2,234.1 L559.7,233.9 L561.2,233.7 L562.7,233.6 L564.2,233.4 L565.7,233.3 L567.2,233.1 L568.7,233.0 L570.2,232.8 L571.7,232.7 L573.2,232.5 L574.7,232.4 L576.2,232.3 L577.8,232.1 L579.3,232.0 L580.8,231.9 L582.3,231.7 L583.8,231.6 L585.3,231.5 L586.8,231.3 L588.3,231.2 L589.8,231.1 L591.3,230.9 L592.9,230.8 L594.4,230.7 L595.9,230.6 L597.4,230.5 L598.9,230.3 L600.4,230.2 L601.9,230.1 L603.4,230.0 L604.9,229.9 L606.4,229.8 L608.0,229.6 L609.5,229.5 L611.0,229.4 L612.5,229.3 L614.0,229.2 L615.5,229.1 L617.0,229.0 L618.5,228.9 L620.0,228.8 L621.6,228.7 L623.1,228.6 L624.6,228.5 L626.1,228.4 L627.6,228.3 L629.1,228.2 L630.6,228.1 L632.1,228.0 L633.6,227.9 L635.2,227.8 L636.7,227.7 L638.2,227.6 L639.7,227.5 L641.2,227.4 L642.7,227.3 L644.2,227.2 L645.7,227.1 L647.2,227.1 L648.7,227.0 L650.2,226.9 L651.8,226.8 L653.3,226.7 L654.8,226.6 L656.3,226.5 L657.8,226.4 L659.3,226.3 L660.8,226.3 L662.3,226.2 L663.8,226.1 L665.3,226.0 L666.8,225.9 L668.3,225.8 L669.8,225.7 L671.3,225.7 L672.8,225.6 L674.3,225.5 L675.9,225.4 L677.4,225.3 L678.9,225.2 L680.4,225.2 L681.9,225.1 L683.4,225.0 L684.9,224.9 L686.4,224.8 L687.9,224.7 L689.4,224.7 L690.9,224.6 L692.4,224.5 L693.9,224.4 L695.4,224.3 L696.9,224.2 L698.4,224.1 L699.9,224.1 L701.4,224.0 L702.9,223.9 L704.4,223.8 L705.8,223.7 L707.3,223.6 L708.8,223.5 L710.3,223.5 L711.8,223.4 L713.3,223.3 L714.8,223.2 L716.3,223.1" stroke="#fd7a97"/>
<path d="M368.5,281.7 L370.0,281.3 L371.4,280.9 L372.9,280.5 L374.3,280.1 L375.8,279.7 L377.3,279.3 L378.7,278.9 L380.2,278.6 L381.7,278.2 L383.1,277.8 L384.6,277.4 L386.1,277.1 L387.5,276.7 L389.0,276.4 L390.5,276.0 L391.9,275.7 L393.4,275.3 L394.9,275.0 L396.3,274.6 L397.8,274.3 L399.3,274.0 L400.8,273.6 L402.2,273.3 L403.7,273.0 L405.2,272.7 L406.7,272.4 L408.1,272.0 L409.6,271.7 L411.1,271.4 L412.6,271.1 L414.0,270.8 L415.5,270.5 L417.0,270.2 L418.5,269.9 L420.0,269.7 L421.4,269.4 L422.9,269.1 L424.4,268.8 L425.9,268.5 L427.4,268.3 L428.8,268.0 L430.3,267.7 L431.8,267.5 L433.3,267.2 L434.8,267.0 L436.3,266.7 L437.8,266.5 L439.2,266.2 L440.7,266.0 L442.2,265.7 L443.7,265.5 L445.2,265.3 L446.7,265.0 L448.2,264.8 L449.7,264.6 L451.2,264.3 L452.6,264.1 L454.1,263.9 L455.6,263.7 L457.1,263.5 L458.6,263.3 L460.1,263.1 L461.6,262.8 L463.1,262.6 L464.6,262.4 L466.1,262.2 L467.6,262.0 L469.1,261.9 L470.6,261.7 L472.1,261.5 L473.6,261.3 L475.1,261.1 L476.6,260.9 L478.1,260.7 L479.6,260.6 L481.1,260.4 L482.6,260.2 L484.1,260.1 L485.6,259.9 L487.1,259.7 L488.6,259.6 L490.1,259.4 L491.6,259.2 L493.1,259.1 L494.6,258.9 L496.1,258.8 L497.6,258.6 L499.1,258.5 L500.6,258.3 L502.1,258.2 L503.6,258.0 L505.1,257.9 L506.6,257.8 L508.1,257.6 L509.6,257.5 L511.1,257.3 L512.6,257.2 L514.1,257.1 L515.6,257.0 L517.1,256.8 L518.6,256.7 L520.1,256.6 L521.6,256.5 L523.1,256.3 L524.6,256.2 L526.2,256.1 L527.7,256.0 L529.2,255.9 L530.7,255.8 L532.2,255.7 L533.7,255.6 L535.2,255.5 L536.7,255.4 L538.2,255.2 L539.7,255.1 L541.2,255.0 L542.7,254.9 L544.3,254.9 L545.8,254.8 L547.3,254.7 L548.8,254.6 L550.3,254.5 L551.8,254.4 L553.3,254.3 L554.8,254.2 L556.3,254.1 L557.9,254.0 L559.4,254.0 L560.9,253.9 L562.4,253.8 L563.9,253.7 L565.4,253.6 L566.9,253.5 L568.4,253.5 L569.9,253.4 L571.5,253.3 L573.0,253.2 L574.5,253.2 L576.0,253.1 L577.5,253.0 L579.0,253.0 L580.5,252.9 L582.0,252.8 L583.6,252.7 L585.1,252.7 L586.6,252.6 L588.1,252.5 L589.6,252.5 L591.1,252.4 L592.6,252.4 L594.1,252.3 L595.7,252.2 L597.2,252.2 L598.7,252.1 L600.2,252.0 L601.7,252.0 L603.2,251.9 L604.7,251.9 L606.2,251.8 L607.8,251.8 L609.3,251.7 L610.8,251.6 L612.3,251.6 L613.8,251.5 L615.3,251.5 L616.8,251.4 L618.3,251.4 L619.8,251.3 L621.4,251.3 L622.9,251.2 L624.4,251.1 L625.9,251.1 L627.4,251.0 L628.9,251.0 L630.4,250.9 L631.9,250.9 L633.5,250.8 L635.0,250.8 L636.5,250.7 L638.0,250.7 L639.5,250.6 L641.0,250.6 L642.5,250.5 L644.0,250.5 L645.5,250.4 L647.1,250.4 L648.6,250.3 L650.1,250.3 L651.6,250.2 L653.1,250.2 L654.6,250.1 L656.1,250.1 L657.6,250.0 L659.1,250.0 L660.6,249.9 L662.1,249.9 L663.7,249.8 L665.2,249.7 L666.7,249.7 L668.2,249.6 L669.7,249.6 L671.2,249.5 L672.7,249.5 L674.2,249.4 L675.7,249.4 L677.2,249.3 L678.7,249.2 L680.2,249.2 L681.7,249.1 L683.2,249.1 L684.8,249.0 L686.3,249.0 L687.8,248.9 L689.3,248.8 L690.8,248.8 L692.3,248.7 L693.8,248.6 L695.3,248.6 L696.8,248.5 L698.3,248.5 L699.8,248.4 L701.3,248.3 L702.8,248.2 L704.3,248.2 L705.8,248.1 L707.3,248.0 L708.8,248.0 L710.3,247.9 L711.8,247.8 L713.3,247.8 L714.8,247.7 L716.3,247.6" stroke="#cf9f2f"/>
<path d="M313.3,281.7 L314.7,281.1 L316.0,280.5 L317.4,279.8 L318.8,279.2 L320.2,278.6 L321.6,278.1 L323.0,277.5 L324.4,276.9 L325.7,276.3 L327.1,275.7 L328.5,275.2 L329.9,274.6 L331.3,274.1 L332.7,273.5 L334.1,273.0 L335.5,272.5 L336.9,271.9 L338.4,271.4 L339.8,270.9 L341.2,270.4 L342.6,269.9 L344.0,269.4 L345.4,268.9 L346.9,268.4 L348.3,267.9 L349.7,267.4 L351.1,267.0 L352.6,266.5 L354.0,266.0 L355.4,265.6 L356.9,265.1 L358.3,264.7 L359.7,264.2 L361.2,263.8 L362.6,263.4 L364.0,262.9 L365.5,262.5 L366.9,262.1 L368.4,261.7 L369.8,261.2 L371.3,260.8 L372.7,260.4 L374.2,260.0 L375.6,259.6 L377.1,259.2 L378.5,258.9 L380.0,258.5 L381.4,258.1 L382.9,257.7 L384.3,257.3 L385.8,257.0 L387.3,256.6 L388.7,256.2 L390.2,255.9 L391.7,255.5 L393.1,255.2 L394.6,254.8 L396.0,254.5 L397.5,254.1 L399.0,253.8 L400.5,253.5 L401.9,253.1 L403.4,252.8 L404.9,252.5 L406.3,252.1 L407.8,251.8 L409.3,251.5 L410.8,251.2 L412.2,250.9 L413.7,250.6 L415.2,250.2 L416.7,249.9 L418.1,249.6 L419.6,249.3 L421.1,249.0 L422.6,248.7 L424.0,248.4 L425.5,248.1 L427.0,247.9 L428.5,247.6 L430.0,247.3 L431.4,247.0 L432.9,246.7 L434.4,246.4 L435.9,246.1 L437.4,245.9 L438.8,245.6 L440.3,245.3 L441.8,245.0 L443.3,244.8 L444.8,244.5 L446.3,244.2 L447.7,244.0 L449.2,243.7 L450.7,243.4 L452.2,243.2 L453.7,242.9 L455.2,242.7 L456.7,242.4 L458.1,242.2 L459.6,241.9 L461.1,241.7 L462.6,241.4 L464.1,241.2 L465.6,240.9 L467.1,240.7 L468.6,240.4 L470.0,240.2 L471.5,240.0 L473.0,239.7 L474.5,239.5 L476.0,239.3 L477.5,239.0 L479.0,238.8 L480.5,238.6 L482.0,238.4 L483.5,238.1 L484.9,237.9 L486.4,237.7 L487.9,237.5 L489.4,237.3 L490.9,237.1 L492.4,236.9 L493.9,236.6 L495.4,236.4 L496.9,236.2 L498.4,236.0 L499.9,235.8 L501.4,235.6 L502.9,235.4 L504.4,235.2 L505.9,235.0 L507.4,234.8 L508.8,234.6 L510.3,234.4 L511.8,234.2 L513.3,234.0 L514.8,233.9 L516.3,233.7 L517.8,233.5 L519.3,233.3 L520.8,233.1 L522.3,232.9 L523.8,232.8 L525.3,232.6 L526.8,232.4 L528.3,232.2 L529.8,232.1 L531.3,231.9 L532.8,231.7 L534.3,231.5 L535.8,231.4 L537.3,231.2 L538.8,231.0 L540.3,230.9 L541.8,230.7 L543.3,230.6 L544.8,230.4 L546.3,230.2 L547.8,230.1 L549.3,229.9 L550.8,229.8 L552.3,229.6 L553.8,229.5 L555.3,229.3 L556.8,229.2 L558.3,229.0 L559.8,228.9 L561.3,228.7 L562.8,228.6 L564.3,228.4 L565.8,228.3 L567.3,228.2 L568.8,228.0 L570.3,227.9 L571.8,227.7 L573.3,227.6 L574.8,227.5 L576.3,227.3 L577.8,227.2 L579.3,227.1 L580.9,227.0 L582.4,226.8 L583.9,226.7 L585.4,226.6 L586.9,226.4 L588.4,226.3 L589.9,226.2 L591.4,226.1 L592.9,226.0 L594.4,225.8 L595.9,225.7 L597.4,225.6 L598.9,225.5 L600.4,225.4 L601.9,225.3 L603.4,225.1 L604.9,225.0 L606.4,224.9 L607.9,224.8 L609.4,224.7 L610.9,224.6 L612.4,224.5 L614.0,224.4 L615.5,224.3 L617.0,224.2 L618.5,224.1 L620.0,224.0 L621.5,223.9 L623.0,223.8 L624.5,223.7 L626.0,223.6 L627.5,223.5 L629.0,223.4 L630.5,223.3 L632.0,223.2 L633.5,223.1 L635.0,223.0 L636.5,222.9 L638.0,222.8 L639.5,222.7 L641.1,222.6 L642.6,222.6 L644.1,222.5 L645.6,222.4 L647.1,222.3 L648.6,222.2 L650.1,222.1 L651.6,222.0 L653.1,222.0 L654.6,221.9 L656.1,221.8 L657.6,221.7 L659.1,221.6 L660.6,221.6 L662.1,221.5 L663.6,221.4 L665.1,221.3 L666.7,221.3 L668.2,221.2 L669.7,221.1 L671.2,221.0 L672.7,221.0 L674.2,220.9 L675.7,220.8 L677.2,220.7 L678.7,220.7 L680.2,220.6 L681.7,220.5 L683.2,220.5 L684.7,220.4 L686.2,220.3 L687.7,220.3 L689.2,220.2 L690.7,220.1 L692.2,220.1 L693.7,220.0 L695.2,219.9 L696.8,219.9 L698.3,219.8 L699.8,219.8 L701.3,219.7 L702.8,219.6 L704.3,219.6 L705.8,219.5 L707.3,219.4 L708.8,219.4 L710.3,219.3 L711.8,219.3 L713.3,219.2 L714.8,219.2 L716.3,219.1" stroke="#10b434"/>
<path d="M272.6,281.7 L273.8,280.8 L275.0,279.8 L276.2,278.9 L277.4,278.0 L278.6,277.1 L279.8,276.2 L281.1,275.3 L282.3,274.4 L283.5,273.5 L284.8,272.6 L286.0,271.8 L287.2,270.9 L288.5,270.1 L289.8,269.3 L291.0,268.4 L292.3,267.6 L293.5,266.8 L294.8,266.0 L296.1,265.2 L297.4,264.4 L298.7,263.7 L299.9,262.9 L301.2,262.1 L302.5,261.4 L303.8,260.6 L305.1,259.9 L306.5,259.2 L307.8,258.4 L309.1,257.7 L310.4,257.0 L311.7,256.3 L313.0,255.6 L314.4,254.9 L315.7,254.2 L317.1,253.6 L318.4,252.9 L319.7,252.2 L321.1,251.6 L322.4,250.9 L323.8,250.3 L325.1,249.7 L326.5,249.0 L327.9,248.4 L329.2,247.8 L330.6,247.2 L332.0,246.6 L333.4,246.0 L334.7,245.4 L336.1,244.8 L337.5,244.3 L338.9,243.7 L340.3,243.1 L341.7,242.6 L343.1,242.0 L344.5,241.5 L345.9,240.9 L347.3,240.4 L348.7,239.9 L350.1,239.4 L351.5,238.8 L352.9,238.3 L354.3,237.8 L355.7,237.3 L357.1,236.8 L358.6,236.3 L360.0,235.8 L361.4,235.4 L362.8,234.9 L364.3,234.4 L365.7,234.0 L367.1,233.5 L368.6,233.0 L370.0,232.6 L371.4,232.1 L372.9,231.7 L374.3,231.3 L375.8,230.8 L377.2,230.4 L378.7,230.0 L380.1,229.6 L381.6,229.1 L383.0,228.7 L384.5,228.3 L385.9,227.9 L387.4,227.5 L388.8,227.1 L390.3,226.7 L391.7,226.3 L393.2,226.0 L394.7,225.6 L396.1,225.2 L397.6,224.8 L399.0,224.5 L400.5,224.1 L402.0,223.7 L403.4,223.4 L404.9,223.0 L406.4,222.7 L407.8,222.3 L409.3,222.0 L410.8,221.6 L412.2,221.3 L413.7,221.0 L415.2,220.6 L416.7,220.3 L418.1,220.0 L419.6,219.6 L421.1,219.3 L422.5,219.0 L424.0,218.7 L425.5,218.4 L427.0,218.1 L428.4,217.8 L429.9,217.4 L431.4,217.1 L432.9,216.9 L434.3,216.6 L435.8,216.3 L437.3,216.0 L438.8,215.7 L440.3,215.4 L441.7,215.1 L443.2,214.8 L444.7,214.6 L446.2,214.3 L447.7,214.0 L449.1,213.8 L450.6,213.5 L452.1,213.2 L453.6,213.0 L455.1,212.7 L456.6,212.5 L458.0,212.2 L459.5,212.0 L461.0,211.7 L462.5,211.5 L464.0,211.2 L465.5,211.0 L467.0,210.7 L468.5,210.5 L469.9,210.3 L471.4,210.1 L472.9,209.8 L474.4,209.6 L475.9,209.4 L477.4,209.2 L478.9,208.9 L480.4,208.7 L481.9,208.5 L483.4,208.3 L484.8,208.1 L486.3,207.9 L487.8,207.7 L489.3,207.5 L490.8,207.3 L492.3,207.1 L493.8,206.9 L495.3,206.7 L496.8,206.5 L498.3,206.3 L499.8,206.1 L501.3,205.9 L502.8,205.8 L504.3,205.6 L505.8,205.4 L507.3,205.2 L508.8,205.0 L510.3,204.9 L511.8,204.7 L513.3,204.5 L514.8,204.4 L516.3,204.2 L517.8,204.0 L519.3,203.9 L520.8,203.7 L522.3,203.6 L523.8,203.4 L525.3,203.3 L526.8,203.1 L528.3,203.0 L529.8,202.8 L531.3,202.7 L532.8,202.5 L534.3,202.4 L535.8,202.2 L537.3,202.1 L538.8,201.9 L540.3,201.8 L541.8,201.7 L543.3,201.5 L544.8,201.4 L546.3,201.3 L547.8,201.1 L549.3,201.0 L550.8,200.9 L552.3,200.8 L553.8,200.6 L555.3,200.5 L556.8,200.4 L558.3,200.3 L559.8,200.2 L561.3,200.1 L562.8,199.9 L564.3,199.8 L565.9,199.7 L567.4,199.6 L568.9,199.5 L570.4,199.4 L571.9,199.3 L573.4,199.2 L574.9,199.1 L576.4,199.0 L577.9,198.9 L579.4,198.8 L580.9,198.7 L582.4,198.6 L583.9,198.5 L585.4,198.4 L586.9,198.3 L588.4,198.2 L590.0,198.1 L591.5,198.0 L593.0,197.9 L594.5,197.8 L596.0,197.7 L597.5,197.7 L599.0,197.6 L600.5,197.5 L602.0,197.4 L603.5,197.3 L605.0,197.2 L606.5,197.1 L608.0,197.1 L609.5,197.0 L611.1,196.9 L612.6,196.8 L614.1,196.8 L615.6,196.7 L617.1,196.6 L618.6,196.5 L620.1,196.4 L621.6,196.4 L623.1,196.3 L624.6,196.2 L626.1,196.2 L627.6,196.1 L629.1,196.0 L630.6,195.9 L632.2,195.9 L633.7,195.8 L635.2,195.7 L636.7,195.7 L638.2,195.6 L639.7,195.5 L641.2,195.5 L642.7,195.4 L644.2,195.3 L645.7,195.3 L647.2,195.2 L648.7,195.1 L650.2,195.1 L651.7,195.0 L653.2,195.0 L654.7,194.9 L656.3,194.8 L657.8,194.8 L659.3,194.7 L660.8,194.6 L662.3,194.6 L663.8,194.5 L665.3,194.5 L666.8,194.4 L668.3,194.3 L669.8,194.3 L671.3,194.2 L672.8,194.2 L674.3,194.1 L675.8,194.0 L677.3,194.0 L678.8,193.9 L680.3,193.9 L681.8,193.8 L683.3,193.7 L684.8,193.7 L686.3,193.6 L687.8,193.6 L689.3,193.5 L690.8,193.4 L692.3,193.4 L693.8,193.3 L695.3,193.3 L696.8,193.2 L698.3,193.1 L699.8,193.1 L701.3,193.0 L702.8,193.0 L704.3,192.9 L705.8,192.8 L707.3,192.8 L708.8,192.7 L710.3,192.7 L711.8,192.6 L713.3,192.5 L714.8,192.5 L716.3,192.4" stroke="#08b29e"/>
<path d="M406.7,281.7 L407.9,282.6 L409.2,283.5 L410.4,284.3 L411.7,285.2 L413.0,286.1 L414.2,286.9 L415.5,287.8 L416.7,288.6 L418.0,289.5 L419.3,290.3 L420.5,291.1 L421.8,291.9 L423.1,292.8 L424.4,293.6 L425.7,294.4 L426.9,295.2 L428.2,296.0 L429.5,296.8 L430.8,297.6 L432.1,298.3 L433.4,299.1 L434.7,299.9 L436.0,300.7 L437.3,301.4 L438.6,302.2 L439.9,302.9 L441.2,303.7 L442.6,304.4 L443.9,305.2 L445.2,305.9 L446.5,306.6 L447.8,307.3 L449.2,308.1 L450.5,308.8 L451.8,309.5 L453.2,310.2 L454.5,310.9 L455.8,311.6 L457.2,312.3 L458.5,312.9 L459.9,313.6 L461.2,314.3 L462.5,315.0 L463.9,315.6 L465.2,316.3 L466.6,316.9 L468.0,317.6 L469.3,318.2 L470.7,318.9 L472.0,319.5 L473.4,320.1 L474.8,320.8 L476.1,321.4 L477.5,322.0 L478.9,322.6 L480.3,323.2 L481.6,323.8 L483.0,324.4 L484.4,325.0 L485.8,325.6 L487.2,326.2 L488.5,326.8 L489.9,327.4 L491.3,328.0 L492.7,328.5 L494.1,329.1 L495.5,329.7 L496.9,330.2 L498.3,330.8 L499.7,331.3 L501.1,331.9 L502.5,332.4 L503.9,332.9 L505.3,333.5 L506.7,334.0 L508.1,334.5 L509.6,335.1 L511.0,335.6 L512.4,336.1 L513.8,336.6 L515.2,337.1 L516.6,337.6 L518.1,338.1 L519.5,338.6 L520.9,339.1 L522.3,339.6 L523.8,340.0 L525.2,340.5 L526.6,341.0 L528.1,341.5 L529.5,341.9 L530.9,342.4 L532.4,342.8 L533.8,343.3 L535.2,343.7 L536.7,344.2 L538.1,344.6 L539.6,345.1 L541.0,345.5 L542.4,345.9 L543.9,346.4 L545.3,346.8 L546.8,347.2 L548.2,347.6 L549.7,348.0 L551.1,348.5 L552.6,348.9 L554.1,349.3 L555.5,349.7 L557.0,350.1 L558.4,350.5 L559.9,350.8 L561.3,351.2 L562.8,351.6 L564.3,352.0 L565.7,352.4 L567.2,352.7 L568.7,353.1 L570.1,353.5 L571.6,353.8 L573.1,354.2 L574.5,354.6 L576.0,354.9 L577.5,355.3 L579.0,355.6 L580.4,356.0 L581.9,356.3 L583.4,356.6 L584.9,357.0 L586.3,357.3 L587.8,357.6 L589.3,358.0 L590.8,358.3 L592.3,358.6 L593.7,358.9 L595.2,359.2 L596.7,359.5 L598.2,359.8 L599.7,360.1 L601.1,360.4 L602.6,360.7 L604.1,361.0 L605.6,361.3 L607.1,361.6 L608.6,361.9 L610.1,362.2 L611.6,362.5 L613.0,362.8 L614.5,363.0 L616.0,363.3 L617.5,363.6 L619.0,363.8 L620.5,364.1 L622.0,364.4 L623.5,364.6 L625.0,364.9 L626.5,365.1 L628.0,365.4 L629.5,365.6 L631.0,365.9 L632.5,366.1 L633.9,366.4 L635.4,366.6 L636.9,366.9 L638.4,367.1 L639.9,367.3 L641.4,367.6 L642.9,367.8 L644.4,368.0 L645.9,368.2 L647.4,368.4 L648.9,368.7 L650.4,368.9 L651.9,369.1 L653.4,369.3 L654.9,369.5 L656.4,369.7 L657.9,369.9 L659.4,370.1 L660.9,370.3 L662.4,370.5 L663.9,370.7 L665.4,370.9 L666.9,371.1 L668.4,371.3 L669.9,371.5 L671.4,371.7 L672.9,371.9 L674.4,372.0 L675.9,372.2 L677.4,372.4 L678.9,372.6 L680.4,372.7 L681.9,372.9 L683.4,373.1 L684.9,373.3 L686.4,373.4 L687.9,373.6 L689.4,373.8 L690.9,373.9 L692.4,374.1 L693.9,374.2 L695.4,374.4 L696.9,374.5 L698.4,374.7 L699.9,374.8 L701.4,375.0 L702.9,375.1 L704.4,375.3 L705.9,375.4 L707.3,375.6 L708.8,375.7 L710.3,375.9 L711.8,376.0 L713.3,376.1 L714.8,376.3 L716.3,376.4" stroke="#12a8f2"/>
<path d="M299.9,281.7 L301.2,282.5 L302.5,283.3 L303.9,284.0 L305.2,284.8 L306.5,285.6 L307.8,286.3 L309.2,287.1 L310.5,287.8 L311.9,288.6 L313.2,289.3 L314.6,290.1 L315.9,290.8 L317.3,291.5 L318.6,292.2 L320.0,293.0 L321.3,293.7 L322.7,294.4 L324.1,295.1 L325.4,295.8 L326.8,296.5 L328.2,297.2 L329.6,297.8 L331.0,298.5 L332.4,299.2 L333.7,299.9 L335.1,300.5 L336.5,301.2 L337.9,301.8 L339.3,302.5 L340.7,303.1 L342.1,303.7 L343.5,304.3 L345.0,305.0 L346.4,305.6 L347.8,306.2 L349.2,306.8 L350.6,307.3 L352.1,307.9 L353.5,308.5 L354.9,309.1 L356.3,309.6 L357.8,310.2 L359.2,310.7 L360.7,311.3 L362.1,311.8 L363.5,312.3 L365.0,312.9 L366.4,313.4 L367.9,313.9 L369.4,314.4 L370.8,314.9 L372.3,315.4 L373.7,315.8 L375.2,316.3 L376.7,316.8 L378.1,317.2 L379.6,317.7 L381.1,318.1 L382.6,318.5 L384.0,318.9 L385.5,319.3 L387.0,319.7 L388.5,320.1 L390.0,320.5 L391.5,320.9 L392.9,321.3 L394.4,321.6 L395.9,322.0 L397.4,322.3 L398.9,322.7 L400.4,323.0 L401.9,323.3 L403.4,323.6 L405.0,323.9 L406.5,324.2 L408.0,324.5 L409.5,324.7 L411.0,325.0 L411.0,325.0 L412.5,325.1 L414.0,325.2 L415.5,325.4 L417.0,325.5 L418.5,325.6 L420.0,325.7 L421.6,325.8 L423.1,326.0 L424.6,326.1 L426.1,326.2 L427.6,326.3 L429.1,326.4 L430.6,326.5 L432.1,326.6 L433.6,326.7 L435.1,326.9 L436.6,327.0 L438.2,327.1 L439.7,327.2 L441.2,327.3 L442.7,327.4 L444.2,327.5 L445.7,327.6 L447.2,327.7 L448.7,327.8 L450.2,327.9 L451.7,328.0 L453.2,328.1 L454.8,328.2 L456.3,328.3 L457.8,328.4 L459.3,328.5 L460.8,328.6 L462.3,328.7 L463.8,328.8 L465.3,328.9 L466.8,329.0 L468.3,329.1 L469.9,329.2 L471.4,329.3 L472.9,329.4 L474.4,329.5 L475.9,329.5 L477.4,329.6 L478.9,329.7 L480.4,329.8 L481.9,329.9 L483.4,330.0 L485.0,330.1 L486.5,330.2 L488.0,330.3 L489.5,330.3 L491.0,330.4 L492.5,330.5 L494.0,330.6 L495.5,330.7 L497.0,330.8 L498.6,330.8 L500.1,330.9 L501.6,331.0 L503.1,331.1 L504.6,331.2 L506.1,331.2 L507.6,331.3 L509.1,331.4 L510.6,331.5 L512.1,331.5 L513.7,331.6 L515.2,331.7 L516.7,331.8 L518.2,331.8 L519.7,331.9 L521.2,332.0 L522.7,332.0 L524.2,332.1 L525.7,332.2 L527.3,332.3 L528.8,332.3 L530.3,332.4 L531.8,332.5 L533.3,332.5 L534.8,332.6 L536.3,332.7 L537.8,332.7 L539.4,332.8 L540.9,332.9 L542.4,332.9 L543.9,333.0 L545.4,333.1 L546.9,333.1 L548.4,333.2 L549.9,333.2 L551.4,333.3 L553.0,333.4 L554.5,333.4 L556.0,333.5 L557.5,333.5 L559.0,333.6 L560.5,333.7 L562.0,333.7 L563.5,333.8 L565.1,333.8 L566.6,333.9 L568.1,333.9 L569.6,334.0 L571.1,334.1 L572.6,334.1 L574.1,334.2 L575.6,334.2 L577.1,334.3 L578.7,334.3 L580.2,334.4 L581.7,334.4 L583.2,334.5 L584.7,334.5 L586.2,334.6 L587.7,334.6 L589.2,334.7 L590.8,334.7 L592.3,334.8 L593.8,334.8 L595.3,334.9 L596.8,334.9 L598.3,335.0 L599.8,335.0 L601.3,335.1 L602.9,335.1 L604.4,335.2 L605.9,335.2 L607.4,335.2 L608.9,335.3 L610.4,335.3 L611.9,335.4 L613.4,335.4 L615.0,335.5 L616.5,335.5 L618.0,335.5 L619.5,335.6 L621.0,335.6 L622.5,335.7 L624.0,335.7 L625.5,335.7 L627.1,335.8 L628.6,335.8 L630.1,335.9 L631.6,335.9 L633.1,335.9 L634.6,336.0 L636.1,336.0 L637.6,336.1 L639.2,336.1 L640.7,336.1 L642.2,336.2 L643.7,336.2 L645.2,336.2 L646.7,336.3 L648.2,336.3 L649.7,336.3 L651.3,336.4 L652.8,336.4 L654.3,336.4 L655.8,336.5 L657.3,336.5 L658.8,336.5 L660.3,336.6 L661.8,336.6 L663.4,336.6 L664.9,336.7 L666.4,336.7 L667.9,336.7 L669.4,336.8 L670.9,336.8 L672.4,336.8 L673.9,336.9 L675.5,336.9 L677.0,336.9 L678.5,336.9 L680.0,337.0 L681.5,337.0 L683.0,337.0 L684.5,337.1 L686.0,337.1 L687.6,337.1 L689.1,337.1 L690.6,337.2 L692.1,337.2 L693.6,337.2 L695.1,337.2 L696.6,337.3 L698.1,337.3 L699.7,337.3 L701.2,337.4 L702.7,337.4 L704.2,337.4 L705.7,337.4 L707.2,337.5 L708.7,337.5 L710.2,337.5 L711.8,337.5 L713.3,337.6 L714.8,337.6 L716.3,337.6" stroke="#fb5cf6"/>
<path d="M77.6,282 H291" stroke="#ba7699" stroke-width="2" stroke-opacity="1"/>
<path d="M291,282 H361" stroke="#ba7699" stroke-width="2" stroke-opacity="0.8"/>
<path d="M361,282 H407" stroke="#ba7699" stroke-width="2" stroke-opacity="0.5"/>
<path d="M407,282 H482" stroke="#ba7699" stroke-width="2" stroke-opacity="0.3"/>
<path d="M77.6,281.7 L716.3,281.7" stroke="#fd7a97"/>
</g>
<rect x="46.4" y="15.6" width="701.6" height="377.8" fill="none" stroke="#cdcdcd" stroke-width="1.4"/>
<g font-family="'Liberation Sans', Arial, sans-serif" fill="#101010" stroke="#101010" text-rendering="geometricPrecision">
<text transform="translate(397.40,10.00)" font-size="12.65" text-anchor="middle" stroke-width="0.42">LASSO Coefficient Paths</text>
<text transform="translate(34.10,71.45) scale(1,1.04)" font-size="9.45" text-anchor="end" stroke-width="0.3">0.4</text>
<text transform="translate(34.10,124.95) scale(1,1.04)" font-size="9.45" text-anchor="end" stroke-width="0.3">0.3</text>
<text transform="translate(34.10,178.45) scale(1,1.04)" font-size="9.45" text-anchor="end" stroke-width="0.3">0.2</text>
<text transform="translate(34.10,231.95) scale(1,1.04)" font-size="9.45" text-anchor="end" stroke-width="0.3">0.1</text>
<text transform="translate(34.10,285.45) scale(1,1.04)" font-size="9.45" text-anchor="end" stroke-width="0.3">0.0</text>
<text transform="translate(34.10,338.95) scale(1,1.04)" font-size="9.45" text-anchor="end" stroke-width="0.3">−0.1</text>
<text transform="translate(34.10,392.45) scale(1,1.04)" font-size="9.45" text-anchor="end" stroke-width="0.3">−0.2</text>
<text transform="translate(74.60,417.45) scale(1,1.04)" font-size="9.45" text-anchor="start" stroke-width="0.3">10</text>
<text transform="translate(85.80,410.70) scale(1,1.05)" font-size="6.5" text-anchor="start" stroke-width="0.28">−2</text>
<text transform="translate(450.60,417.45) scale(1,1.04)" font-size="9.45" text-anchor="start" stroke-width="0.3">10</text>
<text transform="translate(461.80,410.70) scale(1,1.05)" font-size="6.5" text-anchor="start" stroke-width="0.28">−1</text>
<text transform="translate(396.90,431.80)" font-size="10.67" text-anchor="middle" stroke-width="0.45">Log(alpha)</text>
<text transform="translate(9.20,205.30) rotate(-90) scale(1,0.93)" font-size="10.8" text-anchor="middle" stroke-width="0.45">Coefficients</text>
<path d="M792.2,28.7 H812" stroke="#fd7a97" stroke-width="1.45" fill="none"/>
<text transform="translate(820.30,32.10)" font-size="9.75" text-anchor="start" stroke-width="0.42">PrimarySite</text>
<path d="M792.2,42.7 H812" stroke="#cf9f2f" stroke-width="1.45" fill="none"/>
<text transform="translate(820.30,46.14)" font-size="9.75" text-anchor="start" stroke-width="0.42">Grade</text>
<path d="M792.2,56.8 H812" stroke="#10b434" stroke-width="1.45" fill="none"/>
<text transform="translate(820.30,60.18)" font-size="9.75" text-anchor="start" stroke-width="0.42">Histology</text>
<path d="M792.2,70.8 H812" stroke="#08b29e" stroke-width="1.45" fill="none"/>
<text transform="translate(820.30,74.22)" font-size="9.75" text-anchor="start" stroke-width="0.42">Stage</text>
<path d="M792.2,84.9 H812" stroke="#12a8f2" stroke-width="1.45" fill="none"/>
<text transform="translate(820.30,88.26)" font-size="9.75" text-anchor="start" stroke-width="0.42">T<tspan dx="-0.55">stage</tspan></text>
<path d="M792.2,98.9 H812" stroke="#fb5cf6" stroke-width="1.45" fill="none"/>
<text transform="translate(820.30,102.30)" font-size="9.75" text-anchor="start" stroke-width="0.42">Nstage</text>
<path d="M792.2,112.9 H812" stroke="#fd7a97" stroke-width="1.45" fill="none"/>
<text transform="translate(820.30,116.34)" font-size="9.75" text-anchor="start" stroke-width="0.42">Mstage</text>
<path d="M792.2,127.0 H812" stroke="#cf9f2f" stroke-width="1.45" fill="none"/>
<text transform="translate(820.30,130.38)" font-size="9.75" text-anchor="start" stroke-width="0.42">Radiotherapy</text>
<path d="M792.2,141.0 H812" stroke="#10b434" stroke-width="1.45" fill="none"/>
<text transform="translate(820.30,144.42)" font-size="9.75" text-anchor="start" stroke-width="0.42">Chemotherapy</text>
<path d="M792.2,155.1 H812" stroke="#08b29e" stroke-width="1.45" fill="none"/>
<text transform="translate(820.30,158.46)" font-size="9.75" text-anchor="start" stroke-width="0.42">BoneMets</text>
<path d="M792.2,169.1 H812" stroke="#12a8f2" stroke-width="1.45" fill="none"/>
<text transform="translate(820.30,172.50)" font-size="9.75" text-anchor="start" stroke-width="0.42">LiverMets</text>
<path d="M792.2,183.1 H812" stroke="#fb5cf6" stroke-width="1.45" fill="none"/>
<text transform="translate(820.30,186.54)" font-size="9.75" text-anchor="start" stroke-width="0.42">LungMets</text>
<path d="M792.2,197.2 H812" stroke="#fd7a97" stroke-width="1.45" fill="none"/>
<text transform="translate(820.30,200.58)" font-size="9.75" text-anchor="start" stroke-width="0.42">Age</text>
</g>
</svg>
</body></html>
